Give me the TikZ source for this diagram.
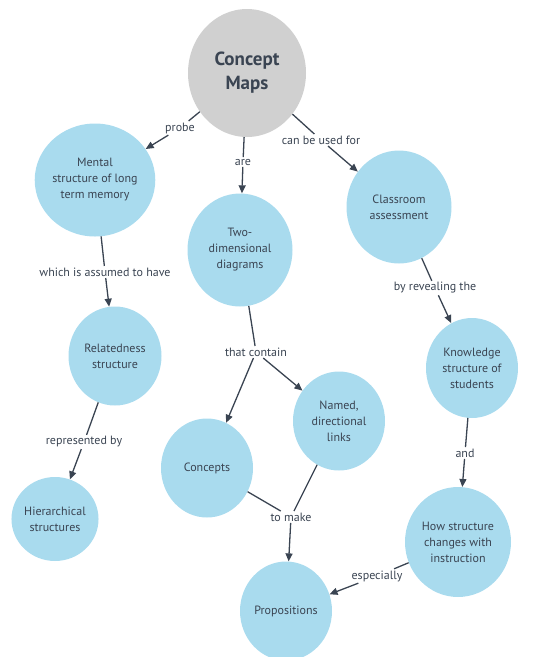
\documentclass[tikz,border=0pt]{standalone}
\usepackage{fontspec}
\setmainfont{PT Sans}
\usetikzlibrary{shapes.geometric,arrows.meta}
\definecolor{cblue}{HTML}{A9DBEE}
\definecolor{cgray}{HTML}{D0D0D0}
\definecolor{ctext}{HTML}{3A4452}
\tikzset{
  concept/.style={ellipse, fill=cblue, inner sep=0pt, align=center, text=ctext, font=\fontsize{12}{16}\selectfont},
  lbl/.style={inner sep=1.5pt, text=ctext, font=\fontsize{12}{14}\selectfont},
  link/.style={draw=ctext, line width=1.3pt},
  arr/.style={link, -{Triangle[length=8pt,width=7pt]}},
}
\begin{document}
\begin{tikzpicture}[x=1pt,y=-1pt]
\useasboundingbox (0,0) rectangle (560,657);
\node[ellipse, fill=cgray, minimum width=118pt, minimum height=128pt, inner sep=0pt, align=center, text=ctext, font=\fontsize{19}{24}\selectfont\bfseries] (cm) at (247,73) {Concept\\Maps};
\node[concept, minimum width=105pt, minimum height=113pt] (mental) at (95,180) {Mental\\structure of long\\term memory};
\node[concept, minimum width=105pt, minimum height=113pt] (two) at (240,250) {Two-\\dimensional\\diagrams};
\node[concept, minimum width=105pt, minimum height=113pt] (class) at (399,207) {Classroom\\assessment};
\node[concept, minimum width=93pt, minimum height=99pt] (rel) at (115,356) {Relatedness\\structure};
\node[concept, minimum width=92pt, minimum height=100pt] (know) at (472,368) {Knowledge\\structure of\\students};
\node[concept, minimum width=92pt, minimum height=99pt] (conc) at (207,468) {Concepts};
\node[concept, minimum width=92pt, minimum height=99pt] (named) at (339,421) {Named,\\directional\\links};
\node[concept, minimum width=79pt, minimum height=84pt] (hier) at (55,519) {Hierarchical\\structures};
\node[concept, minimum width=106pt, minimum height=110pt] (how) at (458,542) {How structure\\changes with\\instruction};
\node[concept, minimum width=92pt, minimum height=99pt] (prop) at (286,611) {Propositions};

\node[lbl] (lprobe) at (180,128) {probe};
\node[lbl] (lare) at (243,162) {are};
\node[lbl] (lcan) at (321,140) {can be used for};
\node[lbl] (lwhich) at (105,272) {which is assumed to have};
\node[lbl] (lthat) at (256,352) {that contain};
\node[lbl] (lrev) at (435,288) {by revealing the};
\node[lbl] (lrep) at (84,442) {represented by};
\node[lbl] (land) at (465,453) {and};
\node[lbl] (lmake) at (291,517) {to make};
\node[lbl] (lesp) at (377,576) {especially};

\draw[link] (cm) -- (lprobe); \draw[arr] (lprobe) -- (mental);
\draw[link] (cm) -- (lare); \draw[arr] (lare) -- (two);
\draw[link] (cm) -- (lcan); \draw[arr] (lcan) -- (class);
\draw[link] (mental) -- (lwhich); \draw[arr] (lwhich) -- (rel);
\draw[link] (two) -- (lthat); \draw[arr] (lthat) -- (conc); \draw[arr] (lthat) -- (named);
\draw[link] (class) -- (lrev); \draw[arr] (lrev) -- (know);
\draw[link] (rel) -- (lrep); \draw[arr] (lrep) -- (hier);
\draw[link] (know) -- (land); \draw[arr] (land) -- (how);
\draw[link] (conc) -- (lmake); \draw[link] (named) -- (lmake); \draw[arr] (lmake) -- (prop);
\draw[link] (how) -- (lesp); \draw[arr] (lesp) -- (prop);
\end{tikzpicture}
\end{document}
